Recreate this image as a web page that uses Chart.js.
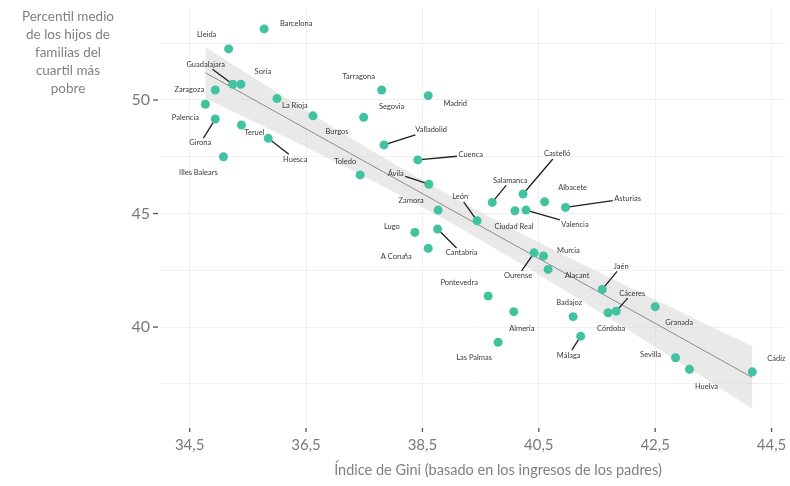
<!DOCTYPE html>
<html>
<head>
<meta charset="utf-8">
<script src="https://cdn.jsdelivr.net/npm/chart.js@4"></script>
<style>
  html, body { margin: 0; padding: 0; background: #fff; }
</style>
</head>
<body>
<canvas id="chart" width="790" height="486"></canvas>
<script>
// datos por provincia
const provincias = [
  "Barcelona", "Lleida", "Guadalajara", "Soria", "Zaragoza", "Palencia", "Girona", "Teruel", "Huesca",
  "Illes Balears", "La Rioja", "Burgos", "Segovia", "Tarragona", "Madrid", "Valladolid", "Toledo",
  "Cuenca", "Ávila", "Zamora", "Lugo", "Cantabria", "A Coruña", "León", "Salamanca", "Castelló",
  "Ciudad Real", "Valencia", "Albacete", "Asturias", "Ourense", "Murcia", "Alacant", "Jaén", "Cáceres",
  "Córdoba", "Granada", "Pontevedra", "Almería", "Badajoz", "Málaga", "Las Palmas", "Sevilla", "Huelva", "Cádiz"
];
const gini = [
  35.78, 35.17, 35.24, 35.38, 34.94, 34.77, 34.94, 35.39, 35.85,
  35.08, 36.00, 36.62, 37.49, 37.80, 38.60, 37.84, 37.43,
  38.42, 38.61, 38.77, 38.37, 38.76, 38.60, 39.44, 39.70, 40.23,
  40.09, 40.28, 40.60, 40.96, 40.42, 40.58, 40.66, 41.59, 41.83,
  41.69, 42.50, 39.63, 40.07, 41.09, 41.22, 39.80, 42.85, 43.09, 44.17
];
const percentil = [
  53.13, 52.25, 50.69, 50.69, 50.44, 49.81, 49.16, 48.90, 48.31,
  47.50, 50.06, 49.30, 49.24, 50.44, 50.19, 48.02, 46.70,
  47.36, 46.29, 45.15, 44.17, 44.32, 43.47, 44.68, 45.49, 45.86,
  45.12, 45.15, 45.52, 45.27, 43.27, 43.13, 42.54, 41.66, 40.70,
  40.63, 40.90, 41.37, 40.68, 40.46, 39.60, 39.33, 38.65, 38.14, 38.03
];
const xTicks = [34.5, 36.5, 38.5, 40.5, 42.5, 44.5];
const yTicks = [40, 45, 50];
const yGrid = [37.5, 40, 42.5, 45, 47.5, 50, 52.5];

// posicion de las etiquetas (px respecto al punto) y si llevan linea guia
const labelPos = {
  "Barcelona": [32, -5], "Lleida": [-22, -14], "Guadalajara": [-27, -20, 1], "Soria": [22, -13],
  "Zaragoza": [-26, 0], "Palencia": [-20, 13], "Girona": [-15, 24, 1], "Teruel": [13, 8],
  "Huesca": [27, 21, 1], "Illes Balears": [-25, 16], "La Rioja": [18, 7], "Burgos": [24, 16],
  "Segovia": [28, -11], "Tarragona": [-23, -13], "Madrid": [27, 8], "Valladolid": [47, -15, 1],
  "Toledo": [-15, -13], "Cuenca": [53, -5, 1], "Ávila": [-33, -11, 1], "Zamora": [-27, -10],
  "Lugo": [-23, -6], "Cantabria": [24, 24, 1], "A Coruña": [-32, 8], "León": [-17, -24, 1],
  "Salamanca": [18, -22, 1], "Castelló": [34, -40, 1], "Ciudad Real": [-1, 16], "Valencia": [49, 14, 1],
  "Albacete": [28, -14], "Asturias": [62, -9, 1], "Ourense": [-16, 23, 1], "Murcia": [25, -5],
  "Alacant": [29, 6], "Jaén": [19, -23, 1], "Cáceres": [16, -18, 1], "Córdoba": [3, 16],
  "Granada": [24, 16], "Pontevedra": [-29, -13], "Almería": [8, 17], "Badajoz": [-4, -14],
  "Málaga": [-12, 19, 1], "Las Palmas": [-24, 15], "Sevilla": [-25, -3], "Huelva": [17, 17],
  "Cádiz": [24, -13]
};

// ajuste lineal con intervalo de confianza al 95%
const n = gini.length;
const xm = gini.reduce((a, b) => a + b, 0) / n;
const ym = percentil.reduce((a, b) => a + b, 0) / n;
let sxx = 0, sxy = 0;
for (let i = 0; i < n; i++) {
  sxx += (gini[i] - xm) ** 2;
  sxy += (gini[i] - xm) * (percentil[i] - ym);
}
const slope = sxy / sxx;
const intercept = ym - slope * xm;
let sse = 0;
for (let i = 0; i < n; i++) sse += (percentil[i] - intercept - slope * gini[i]) ** 2;
const sres = Math.sqrt(sse / (n - 2));
const tval = 2.017;
const xmin = Math.min(...gini), xmax = Math.max(...gini);
const fitLine = [], bandLow = [], bandHigh = [];
for (let k = 0; k <= 40; k++) {
  const x = xmin + (xmax - xmin) * k / 40;
  const yhat = intercept + slope * x;
  const se = sres * Math.sqrt(1 / n + (x - xm) ** 2 / sxx);
  fitLine.push({ x: x, y: yhat });
  bandLow.push({ x: x, y: yhat - tval * se });
  bandHigh.push({ x: x, y: yhat + tval * se });
}
const points = gini.map((g, i) => ({ x: g, y: percentil[i] }));

const FONT = "Lato, 'Open Sans', sans-serif";

const decoraciones = {
  id: "decoraciones",
  afterDatasetDraw(chart, args) {
    if (args.index !== 2) return;
    const { ctx, scales } = chart;
    ctx.save();
    ctx.font = "7.5px " + FONT;
    ctx.textAlign = "center";
    ctx.textBaseline = "middle";
    provincias.forEach((name, i) => {
      const pos = labelPos[name];
      if (!pos) return;
      const px = scales.x.getPixelForValue(gini[i]);
      const py = scales.y.getPixelForValue(percentil[i]);
      const lx = px + pos[0], ly = py + pos[1];
      if (pos[2]) {
        const w = ctx.measureText(name).width / 2 + 1.5;
        const h = 5;
        const dx = px - lx, dy = py - ly;
        const tt = Math.min(w / Math.abs(dx || 1e-6), h / Math.abs(dy || 1e-6));
        ctx.strokeStyle = "#1e1e1e";
        ctx.lineWidth = 1.3;
        ctx.beginPath();
        ctx.moveTo(lx + dx * tt, ly + dy * tt);
        ctx.lineTo(px, py);
        ctx.stroke();
      }
      ctx.fillStyle = "#3a3a3a";
      ctx.fillText(name, lx, ly);
    });
    ctx.restore();
  },
  afterDraw(chart) {
    const { ctx, scales, chartArea } = chart;
    ctx.save();
    ctx.strokeStyle = "#555";
    ctx.lineWidth = 1.3;
    xTicks.forEach(v => {
      const x = scales.x.getPixelForValue(v);
      ctx.beginPath();
      ctx.moveTo(x, chartArea.bottom + 1);
      ctx.lineTo(x, chartArea.bottom + 5);
      ctx.stroke();
    });
    yTicks.forEach(v => {
      const y = scales.y.getPixelForValue(v);
      ctx.beginPath();
      ctx.moveTo(chartArea.left - 7, y);
      ctx.lineTo(chartArea.left - 2, y);
      ctx.stroke();
    });
    // titulos de los ejes
    ctx.fillStyle = "#808080";
    ctx.textAlign = "center";
    ctx.textBaseline = "middle";
    ctx.font = "13.5px " + FONT;
    ["Percentil medio", "de los hijos de", "familias del", "cuartil más", "pobre"].forEach((t, i) => {
      ctx.fillText(t, 68, 17 + i * 18);
    });
    ctx.font = "14.5px " + FONT;
    ctx.fillText("Índice de Gini (basado en los ingresos de los padres)", 498, 470);
    ctx.restore();
  }
};

new Chart(document.getElementById("chart"), {
  type: "line",
  data: {
    datasets: [
      { data: bandLow, borderWidth: 0, pointRadius: 0, fill: false, order: 4 },
      { data: bandHigh, borderWidth: 0, pointRadius: 0, fill: "-1", backgroundColor: "rgba(212,212,212,0.5)", order: 3 },
      { data: fitLine, borderColor: "#8a8a8a", borderWidth: 1, pointRadius: 0, fill: false, order: 2 },
      { data: points, showLine: false, pointRadius: 4.5, pointBackgroundColor: "#41c39f", pointBorderWidth: 0, order: 1 }
    ]
  },
  options: {
    responsive: false,
    animation: false,
    layout: { padding: { top: 8, right: 0, left: 0, bottom: 0 } },
    plugins: { legend: { display: false }, tooltip: { enabled: false } },
    scales: {
      x: {
        type: "linear",
        min: 33.99,
        max: 44.74,
        afterBuildTicks: (axis) => { axis.ticks = xTicks.map(v => ({ value: v })); },
        afterFit: (axis) => {
          axis.height = 59;
          axis.paddingLeft = 0;
          axis.paddingRight = 0;
        },
        border: { display: false },
        grid: { color: "#f0f0f0", drawTicks: false },
        ticks: {
          color: "#7a7a7a",
          font: { family: FONT, size: 15 },
          padding: 9,
          callback: (v) => String(v).replace(".", ",")
        }
      },
      y: {
        min: 35.6,
        max: 54.05,
        afterBuildTicks: (axis) => { axis.ticks = yGrid.map(v => ({ value: v })); },
        afterFit: (axis) => {
          axis.width = 160;
          axis.paddingTop = 0;
          axis.paddingBottom = 0;
        },
        border: { display: false },
        grid: { color: "#f0f0f0", drawTicks: false },
        ticks: {
          color: "#7a7a7a",
          font: { family: FONT, size: 16 },
          padding: 10,
          callback: (v) => (v % 5 === 0 ? String(v) : "")
        }
      }
    }
  },
  plugins: [decoraciones]
});
</script>
</body>
</html>
